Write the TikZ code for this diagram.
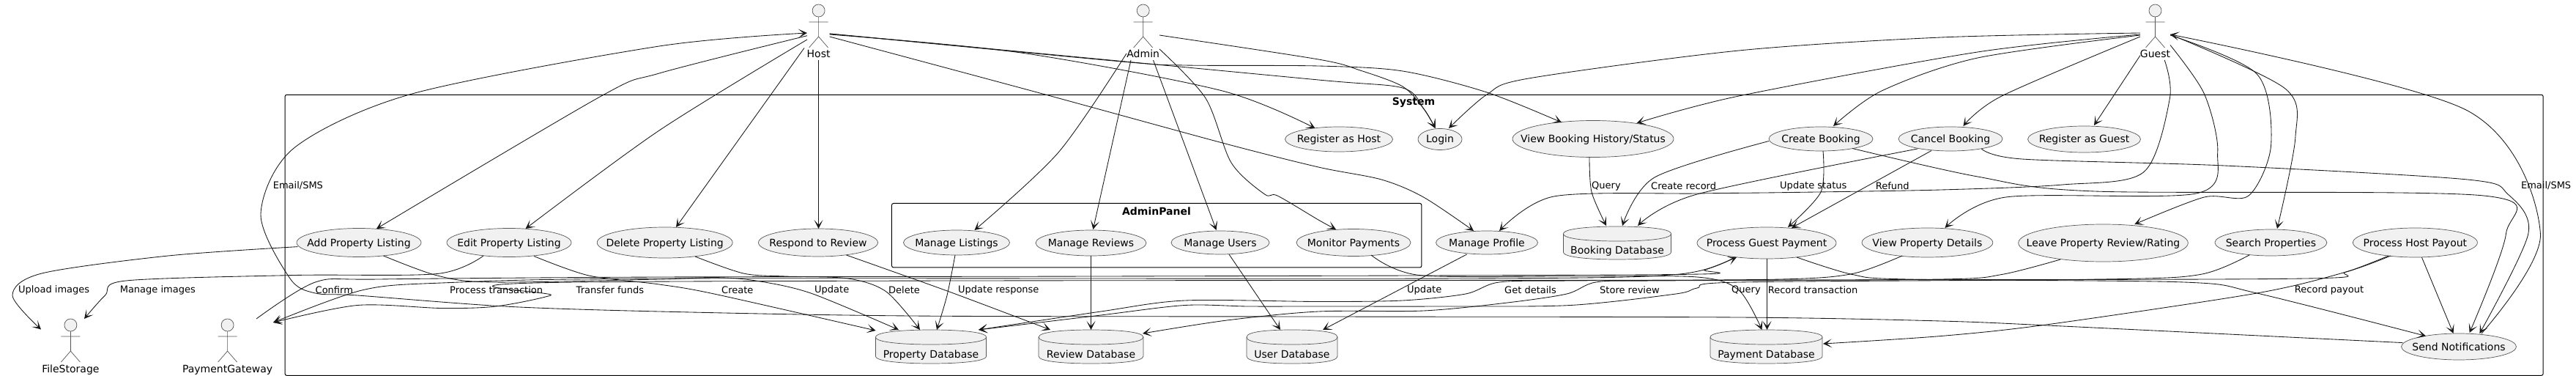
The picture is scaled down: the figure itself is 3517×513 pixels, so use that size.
\documentclass[tikz,border=0pt]{standalone}
\usepackage{fontspec}
\setmainfont{DejaVu Sans}
\usetikzlibrary{arrows.meta,shapes.geometric}
\definecolor{lc}{HTML}{181818}
\definecolor{fc}{HTML}{F1F1F1}
\definecolor{bc}{HTML}{555555}
\newcommand{\T}[1]{\raisebox{-5pt}[0pt][0pt]{\makebox[0pt]{#1}}}
\tikzset{
  uc/.style={ellipse,draw=bc,line width=0.7pt,fill=fc,inner sep=0pt,font=\fontsize{14}{16}\selectfont,text=black},
  ghost/.style={rectangle,inner sep=0pt,font=\fontsize{14}{16}\selectfont,text=black},
  lab/.style={anchor=west,inner sep=0pt,font=\fontsize{13}{15}\selectfont,text=black},
  ttl/.style={inner sep=0pt,font=\fontsize{14}{16}\selectfont\bfseries,text=black},
  frame/.style={draw=black,line width=1pt,rounded corners=2.5pt},
  edge/.style={draw=lc,line width=0.85pt,-{Stealth[length=12pt,width=12pt,inset=7pt]}},
  nt/.style={smooth,tension=0.5},
  fig/.style={draw=bc,line width=0.7pt}
}
\newcommand{\actornode}[5]{% name, cx, top, width, text
  \draw[fig,fill=fc] (#2,#3+8.5) ellipse [x radius=8.5,y radius=8.5];
  \draw[fig] (#2,#3+17) -- (#2,#3+44) (#2-13,#3+24) -- (#2+13,#3+24)
     (#2-13,#3+59) -- (#2,#3+44) -- (#2+13,#3+59);
  \node[ghost,minimum width=#4,minimum height=76] (#1) at (#2,#3+38) {\raisebox{-35pt}[0pt][0pt]{\makebox[0pt]{#5}}};
}
\newcommand{\dbnode}[6]{% name, cx, top, bottom, width, text
  \pgfmathsetmacro{\dbl}{#2-#5/2}\pgfmathsetmacro{\dbr}{#2+#5/2}
  \draw[uc] (\dbl,#3+10) .. controls (\dbl,#3+2) and (#2-30,#3) .. (#2,#3)
     .. controls (#2+30,#3) and (\dbr,#3+2) .. (\dbr,#3+10) -- (\dbr,#4-10)
     .. controls (\dbr,#4-2) and (#2+30,#4) .. (#2,#4)
     .. controls (#2-30,#4) and (\dbl,#4-2) .. (\dbl,#4-10) -- cycle;
  \draw[fig] (\dbl,#3+10) .. controls (\dbl,#3+18) and (#2-30,#3+20) .. (#2,#3+20)
     .. controls (#2+30,#3+20) and (\dbr,#3+18) .. (\dbr,#3+10);
  \node[ghost,minimum width=#5,minimum height=#4-#3] (#1) at (#2,{(#3+#4)/2}) {\raisebox{-15pt}[0pt][0pt]{\makebox[0pt]{#6}}};
}
\begin{document}
\begin{tikzpicture}[x=1pt,y=-1pt]
\useasboundingbox (0,0) rectangle (3517,513);
\fill[white] (0,0) rectangle (3517,513);
% frames
\node[frame,minimum width=3083.2,minimum height=383,inner sep=0pt] (system) at (1930.6,320.8) {};
\node[ttl] (systemt) at (1930,140) {System};
\node[frame,minimum width=723.5,minimum height=87.5,inner sep=0pt] (panel) at (1579.2,321.2) {};
\node[ttl] (panelt) at (1579,288) {AdminPanel};
% actors
\actornode{fs}{96.4}{435}{60}{FileStorage}
\actornode{pg}{310.6}{435}{124}{PaymentGateway}
\actornode{host}{1117.6}{6}{31}{Host}
\actornode{admin}{1560.7}{6}{44}{Admin}
\actornode{guest}{2942.5}{6}{41}{Guest}
% use cases
\node[uc,minimum width=170,minimum height=39] (add) at (490,331) {\T{Add Property Listing}};
\node[uc,minimum width=170,minimum height=39] (edit) at (695,331) {\T{Edit Property Listing}};
\node[uc,minimum width=185,minimum height=42] (del) at (907.7,331) {\T{Delete Property Listing}};
\node[uc,minimum width=163,minimum height=38] (resp) at (1117,331) {\T{Respond to Review}};
\node[uc,minimum width=145,minimum height=34] (lst) at (1306,331) {\T{Manage Listings}};
\node[uc,minimum width=151,minimum height=35] (rev) at (1489.5,331.5) {\T{Manage Reviews}};
\node[uc,minimum width=134,minimum height=32] (usr) at (1666,331) {\T{Manage Users}};
\node[uc,minimum width=156,minimum height=37] (mon) at (1848,331) {\T{Monitor Payments}};
\node[uc,minimum width=139,minimum height=32] (prof) at (2030,331) {\T{Manage Profile}};
\node[uc,minimum width=190,minimum height=43] (pay) at (2412,331.5) {\T{Process Guest Payment}};
\node[uc,minimum width=178.8,minimum height=40] (view) at (2631.4,331) {\T{View Property Details}};
\node[uc,minimum width=231.7,minimum height=51] (leave) at (2871.5,331.5) {\T{Leave Property Review/Rating}};
\node[uc,minimum width=153,minimum height=36] (search) at (3100.4,331) {\T{Search Properties}};
\node[uc,minimum width=170,minimum height=40] (hostp) at (3297.4,331) {\T{Process Host Payout}};
\node[uc,minimum width=157,minimum height=36] (notif) at (3357,473) {\T{Send Notifications}};
\node[uc,minimum width=147,minimum height=34] (reghost) at (1828,190) {\T{Register as Host}};
\node[uc,minimum width=60,minimum height=29] (login) at (1966,190) {\T{Login}};
\node[uc,minimum width=220,minimum height=50] (vbook) at (2175,189.5) {\T{View Booking History/Status}};
\node[uc,minimum width=142,minimum height=33] (create) at (2486,189.5) {\T{Create Booking}};
\node[uc,minimum width=142,minimum height=33] (cancel) at (2663,189.5) {\T{Cancel Booking}};
\node[uc,minimum width=154,minimum height=36] (regguest) at (2845.5,190) {\T{Register as Guest}};
% databases
\dbnode{pdb}{1271}{450}{496}{151}{Property Database}
\dbnode{rdb}{1489.5}{450}{496}{143}{Review Database}
\dbnode{udb}{1764}{450}{496}{124}{User Database}
\dbnode{paydb}{2411.5}{450}{496}{153}{Payment Database}
\dbnode{bdb}{2208}{309}{354}{147}{Booking Database}
% connectors from Host
\draw[edge] plot[nt] coordinates {([shift={(-15.6,4.7)}]host.center) (900,100) (821,131) ([shift={(24,-19)}]add.center)};
\draw[edge] plot[nt] coordinates {([shift={(-15.6,10)}]host.center) (900,178) ([shift={(22.6,-19)}]edit.center)};
\draw[edge] ([shift={(-19.6,21.5)}]host.center) -- ([shift={(15.3,-21)}]del.center);
\draw[edge] ([shift={(0,38)}]host.center) -- ([shift={(0.6,-19)}]resp.center);
\draw[edge] plot[nt] coordinates {([shift={(15,6)}]host.center) (1416,126) (1669,195) (1800,228) (1886,245) (1943.5,269) ([shift={(-18,-16)}]prof.center)};
\draw[edge] plot[nt] coordinates {([shift={(15,3)}]host.center) (1394,72) (1669,124) ([shift={(-32.5,-15)}]reghost.center)};
\draw[edge] plot[nt] coordinates {([shift={(15,2)}]host.center) (1394,70.5) (1800,109) (1915,120) (1943.5,148) ([shift={(-6.4,-15)}]login.center)};
\draw[edge] plot[nt] coordinates {([shift={(15,2)}]host.center) (1531,84) (1617,89) (1800,90) (1915,97) (2030,126) ([shift={(-43,-22.5)}]vbook.center)};
% from Admin
\draw[edge] plot[nt] coordinates {([shift={(22.3,4)}]admin.center) (1800,81) (1857,96) (1915,118) (1943.5,148) ([shift={(-6.4,-15)}]login.center)};
\draw[edge] plot[nt] coordinates {([shift={(-22.7,29)}]admin.center) (1445,208) ([shift={(24.5,-17)}]lst.center)};
\draw[edge] ([shift={(-16.7,38)}]admin.center) -- ([shift={(2.9,-18.5)}]rev.center);
\draw[edge] ([shift={(13.8,38)}]admin.center) -- ([shift={(-5.4,-17)}]usr.center);
\draw[edge] plot[nt] coordinates {([shift={(22.3,23)}]admin.center) (1646,134) (1681,222) (1726.6,265) (1744,267) (1800,300) ([shift={(-24,-18)}]mon.center)};
% from Guest
\draw[edge] plot[nt] coordinates {([shift={(-20.5,1)}]guest.center) (2650,51) (2374,69) (2087,107) (2030,129) ([shift={(12,-15)}]login.center)};
\draw[edge] plot[nt] coordinates {([shift={(-20.5,3)}]guest.center) (2700,71) (2374,131) ([shift={(59.6,-21.5)}]vbook.center)};
\draw[edge] plot[nt] coordinates {([shift={(-20.5,4)}]guest.center) (2700,79) (2569,124) ([shift={(17,-17.5)}]create.center)};
\draw[edge] plot[nt] coordinates {([shift={(-20.5,6)}]guest.center) (2733,131) ([shift={(17.4,-17.5)}]cancel.center)};
\draw[edge] ([shift={(-20.5,31.6)}]guest.center) -- ([shift={(13.5,-19)}]regguest.center);
\draw[edge] plot[nt] coordinates {([shift={(12.7,38)}]guest.center) (2962.4,134) (2926.5,235) (2816,252) (2650,259) (2431.5,262.7) (2316.6,264) (2121.5,268) ([shift={(17,-16)}]prof.center)};
\draw[edge] plot[nt] coordinates {([shift={(20.5,17.5)}]guest.center) (3009.4,128) (3027.7,208) (2998.4,264) (2738.5,269) ([shift={(24,-20)}]view.center)};
\draw[edge] plot[nt] coordinates {([shift={(20.5,4)}]guest.center) (3081.3,101) (3100.6,198) (3070,267) (3009.4,269) ([shift={(42.8,-25.5)}]leave.center)};
\draw[edge] plot[nt] coordinates {([shift={(20.5,3)}]guest.center) (3120,121) (3133.8,188) ([shift={(8.6,-19)}]search.center)};
\draw[edge] plot[nt] coordinates {([shift={(31,-18)}]notif.center) (3468.4,319) (3368.8,151) ([shift={(20.5,3)}]guest.center)};
% use case to use case / data
\draw[edge] plot[nt] coordinates {([shift={(42.3,13.5)}]cancel.center) (2760.6,217) (3037,226) (3368.8,245) (3424,265) (3451.8,319) ([shift={(28.4,-18)}]notif.center)};
\draw[edge] plot[nt] coordinates {([shift={(43,13)}]create.center) (2700,241) (2860,261) (3391,267) (3421.4,319) ([shift={(14.6,-19)}]notif.center)};
\draw[edge] plot[nt] coordinates {([shift={(-71,3)}]create.center) (2259,242) ([shift={(7,-23.5)}]bdb.center)};
\draw[edge] plot[nt] coordinates {([shift={(-45,13.5)}]cancel.center) (2317,265) ([shift={(28,-23.5)}]bdb.center)};
\draw[edge] plot[nt] coordinates {([shift={(-5,24.5)}]vbook.center) (2173,262) ([shift={(-15,-23.5)}]bdb.center)};
\draw[edge] plot[nt] coordinates {([shift={(3,16.5)}]create.center) (2486,262) ([shift={(29,-21.5)}]pay.center)};
\draw[edge] ([shift={(-26,16)}]cancel.center) -- ([shift={(34,-20.5)}]pay.center);
\draw[edge] plot[nt] coordinates {([shift={(24,17)}]mon.center) (1938,375.5) (2144,377) (2317,378) (2374,396) ([shift={(-6,-23)}]paydb.center)};
\draw[edge] ([shift={(0.5,21.5)}]pay.center) -- ([shift={(1,-23)}]paydb.center);
\draw[edge] plot[nt] coordinates {([shift={(41,19.5)}]pay.center) (2529,374.5) (2604,381) (2981.8,385) (3081.3,400) ([shift={(-45,-14.5)}]notif.center)};
\draw[edge] plot[nt] coordinates {([shift={(-34.4,18)}]view.center) (2529,373.5) (2431.5,381) (2144,383) (2047,385) (2001,401) (1915,410) (1800,411.5) (1617.6,410) (1503,425) ([shift={(65,-23)}]pdb.center)};
\draw[edge] plot[nt] coordinates {([shift={(-29,16.7)}]search.center) (3003.9,374.5) (2871.2,381) (2374,385) (2317,393) (2288,401) (2144,416.5) (1972,418) (1800,418) (1704,418) (1617.6,416.5) (1503,430) ([shift={(65,-23)}]pdb.center)};
\draw[edge] plot[nt] coordinates {([shift={(-58.5,22.5)}]leave.center) (2733,374.5) (2650,381) (2259,383) (2179,385) (2139,401) (2058,413) (1943.5,424) (1800,425) (1675,437) ([shift={(70.5,-18)}]rdb.center)};
\draw[edge] plot[nt] coordinates {([shift={(-33.6,18)}]hostp.center) (3203,371) (3081.3,400) (2793.8,443) (2650,458.5) ([shift={(77.5,-4)}]paydb.center)};
\draw[edge] plot[nt] coordinates {([shift={(-36.4,18)}]hostp.center) (3203,371) (3147.7,380) (2500,382) (786,385) (752,403) (677,418) (603,420.5) (488,416.5) ([shift={(62.4,-33)}]pg.center)};
\draw[edge] plot[nt] coordinates {([shift={(39.4,-38)}]pg.center) (430.5,385) (517,381) (900,378) (1500,377) (2288,374.5) (2328,368) ([shift={(-41,19.5)}]pay.center)};
\draw[edge] plot[nt] coordinates {([shift={(-44,19.5)}]pay.center) (2288,374.5) (2000,380) (900,380) (603,386) (494,396) ([shift={(62.4,-33)}]pg.center)};
\draw[edge] plot[nt] coordinates {([shift={(-83.6,5.6)}]add.center) (229.6,349) (57,373) (17,403) ([shift={(-40.4,-23.5)}]fs.center)};
\draw[edge] plot[nt] coordinates {([shift={(-35,18)}]edit.center) (597,373.5) (402,375.5) (172,383) (143.5,403) ([shift={(18.6,-38)}]fs.center)};
\draw[edge] plot[nt] coordinates {([shift={(33.5,18)}]add.center) (597,376) (672,385) (900,381) (975,378.5) (1032,383) (1107,400) ([shift={(-44,-23)}]pdb.center)};
\draw[edge] plot[nt] coordinates {([shift={(34,18.5)}]edit.center) (804,376) (900,388) (975,401) ([shift={(-75.4,-22)}]pdb.center)};
\draw[edge] plot[nt] coordinates {([shift={(41.3,19)}]del.center) (1015,373) (1072,377) (1158,380) (1210,398) ([shift={(-15,-23)}]pdb.center)};
\draw[edge] plot[nt] coordinates {([shift={(38.5,17)}]resp.center) (1296,398) ([shift={(-55.5,-23)}]rdb.center)};
\draw[edge] plot[nt] coordinates {([shift={(-2,17)}]lst.center) (1293,403) ([shift={(8,-23)}]pdb.center)};
\draw[edge] ([shift={(0,17.5)}]rev.center) -- ([shift={(0,-23)}]rdb.center);
\draw[edge] ([shift={(12,16)}]usr.center) -- ([shift={(-16,-23)}]udb.center);
\draw[edge] ([shift={(-27.4,16)}]prof.center) -- ([shift={(42,-23)}]udb.center);
\draw[edge] ([shift={(9,20)}]hostp.center) -- ([shift={(-7.5,-18)}]notif.center);
\draw[edge] plot[nt] coordinates {([shift={(-76.6,-5.4)}]notif.center) (2815.9,445) (2650,438) (2374,433) (1800,432) (1244,431) (900,425) (689,418) (488,403) (430.5,400) (396,380) (356,292) (402,201.5) (562.6,128) (900,63) ([shift={(-15.6,1)}]host.center)};
% connector labels
\node[lab] (l1) at (25,395.7) {Upload images};
\node[lab] (l2) at (163.6,395.7) {Manage images};
\node[lab] (l3) at (430.5,395.7) {Confirm};
\node[lab] (l4) at (614,395.7) {Process transaction};
\node[lab] (l5) at (786.5,395.7) {Transfer funds};
\node[lab] (l6) at (985,395.7) {Create};
\node[lab] (l7) at (1112,395.7) {Update};
\node[lab] (l8) at (1213,395.7) {Delete};
\node[lab] (l9) at (1308,395.7) {Update response};
\node[lab] (l10) at (1921,395.7) {Update};
\node[lab] (l11) at (2054,395.7) {Get details};
\node[lab] (l12) at (2184,395.7) {Store review};
\node[lab] (l13) at (2364,395.7) {Query};
\node[lab] (l14) at (2413.6,395.7) {Record transaction};
\node[lab] (l15) at (3132.7,395.7) {Record payout};
\node[lab] (l16) at (372.6,253.6) {Email/SMS};
\node[lab] (l17) at (2173,253.6) {Query};
\node[lab] (l18) at (2254,253.6) {Create record};
\node[lab] (l19) at (2430,253.6) {Update status};
\node[lab] (l20) at (2560.6,253.6) {Refund};
\node[lab] (l21) at (3441.8,253.6) {Email/SMS};
\end{tikzpicture}
\end{document}
